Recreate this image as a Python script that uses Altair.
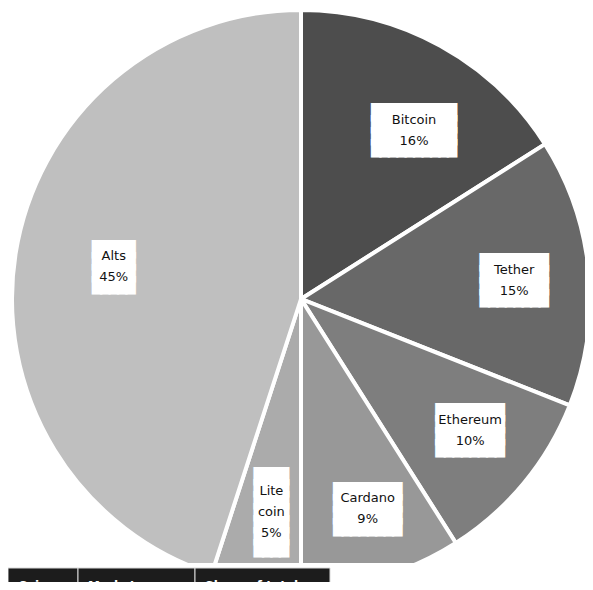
import altair as alt
import pandas as pd

# ---- data ----
names = ["Bitcoin", "Tether", "Ethereum", "Cardano", "Lite\ncoin", "Alts"]
shares = [16, 15, 10, 9, 5, 45]
table_headers = ["Coin", "Market cap", "Share of total"]

# ---- styles / layout ----
colors = ["#4d4d4d", "#686868", "#7e7e7e", "#989898", "#ababab", "#bfbfbf"]
box_cols = [10, 8, 8, 8, 4, 5]
box_rows = [4, 4, 4, 4, 7, 4]
label_radius = [203, 214, 214, 220, 215, 190]
label_shift = [1.4, 0.1, -0.5, -0.4, -0.3, 0.2]   # small angular nudge (% of circle)
col_edges = [8, 78, 195, 330]   # page x of table column borders

TW, TH = 577, 574            # svg size
CX, CY, R = 293, 291, 289    # pie centre / radius in plot px
PIE_BOTTOM = 555             # pie is cut here
BAR_TOP = 560
BOX_LH, LAB_LH = 12, 21

df = pd.DataFrame({"name": names, "share": shares, "order": list(range(len(names)))})
df["label"] = [f"{n}\n{s}%" for n, s in zip(names, shares)]
df["box"] = ["\n".join(["\u2588" * c] * r) for c, r in zip(box_cols, box_rows)]
df["lr"] = label_radius
df["shift"] = label_shift
df["box_cy"] = [CY - (r - 1) * BOX_LH / 2 + 1 for r in box_rows]
df["lab_cy"] = [CY - (s.count("\n")) * LAB_LH / 2 for s in df["label"]]

theta_scale = alt.Scale(domain=[0, 100])

pie = alt.Chart(df).mark_arc(outerRadius=R, stroke="white", strokeWidth=4, clip=True).encode(
    theta=alt.Theta("share:Q", stack=True, scale=theta_scale),
    order=alt.Order("order:Q"),
    x=alt.value(CX),
    y=alt.value(CY),
    color=alt.Color("name:N", scale=alt.Scale(domain=names, range=colors), legend=None),
)

lbase = alt.Chart(df).transform_window(
    cum="sum(share)", sort=[alt.SortField("order")]
).transform_calculate(
    mid="datum.cum - datum.share / 2 + datum.shift"
).encode(
    theta=alt.Theta("mid:Q", stack=None, scale=theta_scale),
    radius=alt.Radius("lr:Q", scale=None),
    x=alt.value(CX),
)

boxes = lbase.mark_text(
    font="DejaVu Sans Mono", fontSize=14, lineHeight=BOX_LH,
    color="white", stroke="white", strokeWidth=2, lineBreak="\n",
    align="center", baseline="middle"
).encode(text="box:N", y=alt.Y("box_cy:Q", scale=None))

labels = lbase.mark_text(
    font="DejaVu Sans", fontSize=13, lineHeight=LAB_LH,
    color="#111111", lineBreak="\n", align="center", baseline="middle"
).encode(text="label:N", y=alt.Y("lab_cy:Q", scale=None))

# white band that cuts the pie
band_df = pd.DataFrame({"a": [col_edges[0]], "b": [col_edges[0] + TW]})
band = alt.Chart(band_df).mark_rect(color="white").encode(
    x=alt.X("a:Q", scale=alt.Scale(domain=[8, 8 + TW]), axis=None),
    x2="b:Q",
    y=alt.value(PIE_BOTTOM), y2=alt.value(TH),
)

tdf = pd.DataFrame({
    "col": table_headers,
    "x0": col_edges[:-1],
    "x1": col_edges[1:],
})
tbase = alt.Chart(tdf).encode(
    x=alt.X("x0:Q", scale=alt.Scale(domain=[8, 8 + TW]), axis=None),
)
trect = tbase.mark_rect(color="#1c1c1c", stroke="#d8d8d8", strokeWidth=1).encode(
    x2="x1:Q", y=alt.value(BAR_TOP), y2=alt.value(TH + 4)
)
ttext = tbase.mark_text(
    align="left", baseline="top", color="white", fontWeight="bold",
    fontSize=12, dx=10, font="DejaVu Sans"
).encode(y=alt.value(BAR_TOP + 13), text="col:N")

chart = alt.layer(pie, boxes, labels, band, trect, ttext).properties(
    width=TW, height=TH, padding=0,
    autosize=alt.AutoSizeParams(type="none"),
).configure_view(strokeWidth=0)

chart.save("out.html", embed_options={"renderer": "svg", "actions": False})
